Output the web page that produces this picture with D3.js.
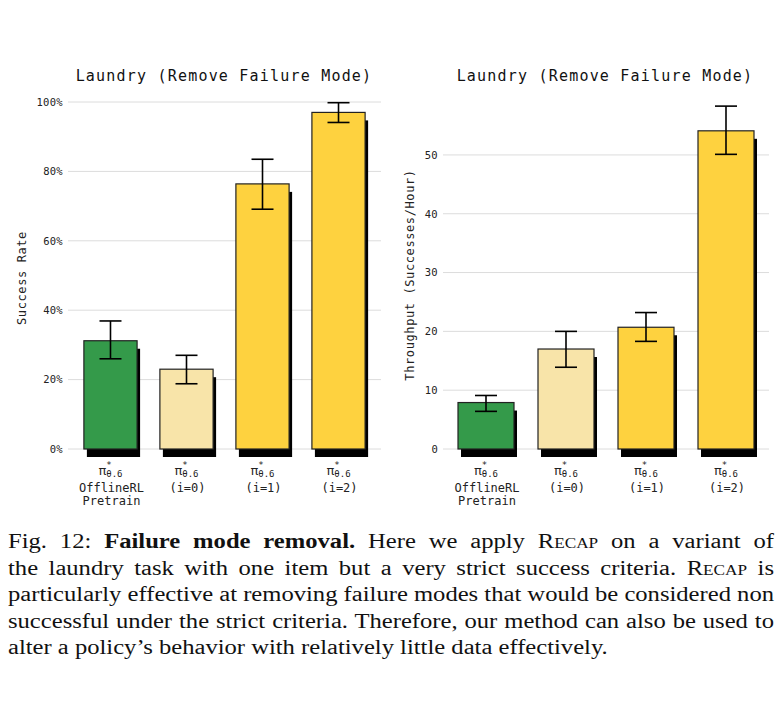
<!DOCTYPE html>
<html>
<head>
<meta charset="utf-8">
<script src="https://cdn.jsdelivr.net/npm/d3@7/dist/d3.min.js"></script>
<style>
  html, body { margin: 0; padding: 0; background: #fff; }
  #wrap { position: relative; width: 779px; height: 720px; }
  svg { position: absolute; left: 0; top: 0; }
  #caption {
    position: absolute; left: 8px; top: 528px; width: 766px;
    font-family: "Liberation Serif", "Times New Roman", serif;
    font-size: 20px; line-height: 26.5px; color: #111;
  }
  #caption .ln { white-space: nowrap; transform-origin: 0 0; height: 26.5px; }
  #caption .just { text-align: justify; text-align-last: justify; }
  #caption .sc { font-variant: small-caps; }
</style>
</head>
<body>
<div id="wrap">
<svg id="chart" width="779" height="720"></svg>
<div id="caption"></div>
</div>
<script>
// ---- data ----
const categories = ["OfflineRL Pretrain", "i=0", "i=1", "i=2"];
const labelLines = [["OfflineRL", "Pretrain"], ["(i=0)"], ["(i=1)"], ["(i=2)"]];
const barColors = ["#349a4a", "#f8e4a9", "#fed23f", "#fed23f"];

const successRate = [0.312, 0.230, 0.764, 0.970];
const successLow  = [0.260, 0.188, 0.691, 0.941];
const successHigh = [0.369, 0.270, 0.835, 0.998];
const successTicks = [0, 0.2, 0.4, 0.6, 0.8, 1.0];

const throughput     = [7.9, 17.0, 20.7, 54.1];
const throughputLow  = [6.4, 13.9, 18.3, 50.1];
const throughputHigh = [9.1, 20.0, 23.2, 58.3];
const throughputTicks = [0, 10, 20, 30, 40, 50];

const chartTitle = "Laundry (Remove Failure Mode)";

// caption lines: each a list of [style, text] pieces
const captionLines = [
  [["", "Fig. 12: "], ["b", "Failure mode removal."], ["", " Here we apply "], ["sc", "Recap"], ["", " on a variant of"]],
  [["", "the laundry task with one item but a very strict success criteria. "], ["sc", "Recap"], ["", " is"]],
  [["", "particularly effective at removing failure modes that would be considered non"]],
  [["", "successful under the strict criteria. Therefore, our method can also be used to"]],
  [["", "alter a policy’s behavior with relatively little data effectively."]]
];

// ---- drawing ----
const svg = d3.select("#chart");
const MONO = "'DejaVu Sans Mono', 'Liberation Mono', monospace";

function drawPanel(cfg) {
  const g = svg.append("g");
  const x = d3.scaleBand().domain(categories)
    .range([cfg.x0, cfg.x1]).paddingInner(0.3).paddingOuter(cfg.po);
  const y = d3.scaleLinear().domain(cfg.domain).range([449, 102]);

  g.append("text").attr("x", cfg.titleX).attr("y", 81)
    .attr("text-anchor", "middle").attr("font-family", MONO)
    .attr("font-size", 15).attr("letter-spacing", 1.2).attr("fill", "#111")
    .text(chartTitle);

  g.append("g").selectAll("line").data(cfg.ticks).join("line")
    .attr("x1", cfg.x0).attr("x2", cfg.x1)
    .attr("y1", d => y(d)).attr("y2", d => y(d))
    .attr("stroke", "#dcdcdc").attr("stroke-width", 1);

  const yAxis = d3.axisLeft(y).tickValues(cfg.ticks).tickSize(0).tickPadding(5)
    .tickFormat(cfg.fmt);
  const ya = g.append("g").attr("transform", `translate(${cfg.x0},0)`).call(yAxis);
  ya.select(".domain").remove();
  ya.selectAll("text").attr("font-family", MONO).attr("font-size", 10.5)
    .attr("letter-spacing", 0.3).attr("fill", "#222");

  g.append("text")
    .attr("transform", `translate(${cfg.ylabX},${cfg.ylabY}) rotate(-90)`)
    .attr("text-anchor", "middle").attr("font-family", MONO)
    .attr("font-size", 12).attr("letter-spacing", 0.6).attr("fill", "#222")
    .text(cfg.ylabel);

  const idx = d3.range(categories.length);
  g.append("g").selectAll("rect").data(idx).join("rect")
    .attr("x", i => x(categories[i]) + 3)
    .attr("y", i => y(cfg.values[i]) + 8)
    .attr("width", x.bandwidth())
    .attr("height", i => y(0) - y(cfg.values[i]))
    .attr("fill", "#000");
  g.append("g").selectAll("rect").data(idx).join("rect")
    .attr("x", i => x(categories[i]))
    .attr("y", i => y(cfg.values[i]))
    .attr("width", x.bandwidth())
    .attr("height", i => y(0) - y(cfg.values[i]))
    .attr("fill", i => barColors[i])
    .attr("stroke", "#222").attr("stroke-width", 1.2);
  const eb = g.append("g").attr("stroke", "#000").attr("stroke-width", 1.6);
  idx.forEach(i => {
    const cx = x(categories[i]) + x.bandwidth() / 2;
    eb.append("line").attr("x1", cx).attr("x2", cx)
      .attr("y1", y(cfg.low[i])).attr("y2", y(cfg.high[i]));
    [cfg.low[i], cfg.high[i]].forEach(v => {
      eb.append("line").attr("x1", cx - 11).attr("x2", cx + 11)
        .attr("y1", y(v)).attr("y2", y(v));
    });
  });

  idx.forEach(i => {
    const cx = x(categories[i]) + x.bandwidth() / 2;
    const t = g.append("text").attr("x", cx).attr("y", 475)
      .attr("text-anchor", "middle").attr("font-family", MONO).attr("fill", "#222");
    t.append("tspan").attr("font-size", 13).text("π");
    t.append("tspan").attr("font-size", 9).attr("dy", -7).text("*");
    t.append("tspan").attr("font-size", 9).attr("dx", -5.4).attr("dy", 9).text("θ.6");
    labelLines[i].forEach((ln, k) => {
      g.append("text").attr("x", cx + 1).attr("y", 492 + k * 12.5)
        .attr("text-anchor", "middle").attr("font-family", MONO)
        .attr("font-size", 12).attr("fill", "#222").text(ln);
    });
  });
}

drawPanel({
  x0: 68, x1: 381, po: 0.209, domain: [0, 1], ticks: successTicks,
  fmt: d3.format(".0%"), values: successRate, low: successLow, high: successHigh,
  titleX: 224, ylabel: "Success Rate", ylabX: 26, ylabY: 278
});
drawPanel({
  x0: 443, x1: 769, po: 0.1875, domain: [0, 59], ticks: throughputTicks,
  fmt: d3.format("d"), values: throughput, low: throughputLow, high: throughputHigh,
  titleX: 605, ylabel: "Throughput (Successes/Hour)", ylabX: 414, ylabY: 275
});

// caption: lines stretched horizontally as in the reference
const cap = d3.select("#caption");
const fullW = 766;
const lineDivs = captionLines.map((pieces, li) => {
  const d = cap.append("div").attr("class", "ln");
  pieces.forEach(([st, txt]) => {
    const s = d.append(st === "b" ? "b" : "span").text(txt);
    if (st === "sc") s.attr("class", "sc");
  });
  return d;
});
// natural width of line 3 defines the horizontal stretch
const probe = lineDivs[2].style("display", "inline-block");
const natW = probe.node().getBoundingClientRect().width;
probe.style("display", null);
const sx = fullW / natW;
lineDivs.forEach((d, li) => {
  d.style("width", (fullW / sx) + "px")
   .style("transform", `scaleX(${sx})`);
  if (li < lineDivs.length - 1) d.classed("just", true).style("white-space", "normal");
});
</script>
</body>
</html>
